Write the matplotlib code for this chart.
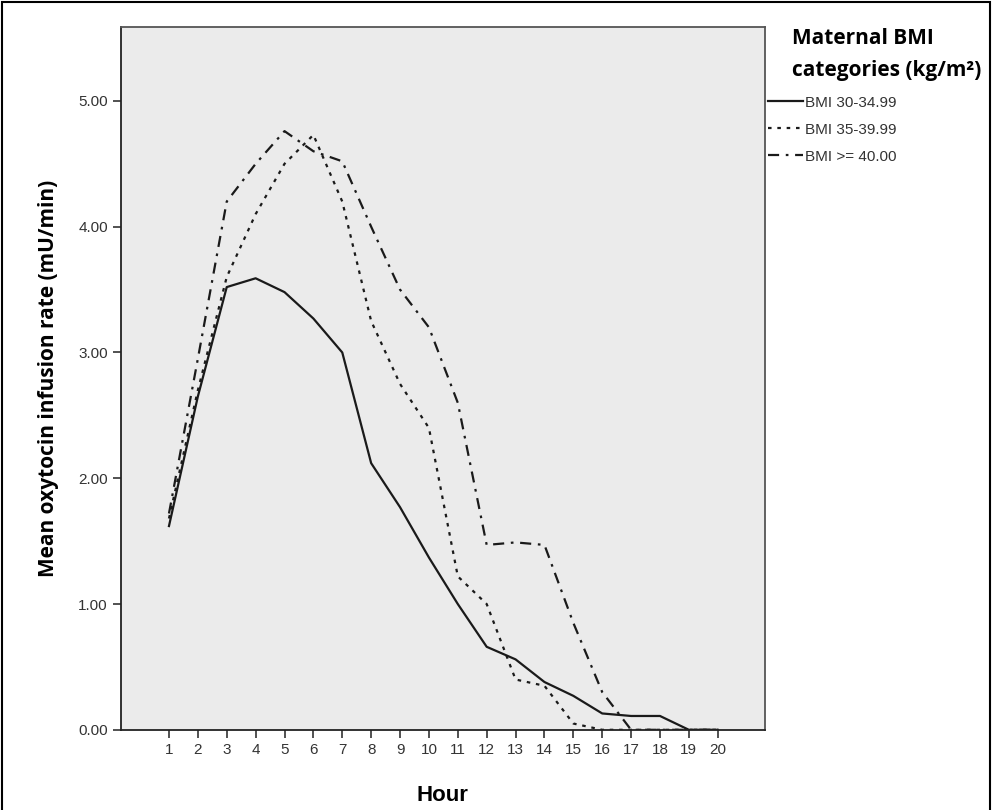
import numpy as np
import matplotlib.pyplot as plt
from matplotlib.patches import Rectangle

hours = list(range(1, 21))
bmi_30 = [1.62, 2.65, 3.52, 3.59, 3.48, 3.27, 3.00, 2.12, 1.77, 1.37,
          1.00, 0.66, 0.56, 0.38, 0.27, 0.13, 0.11, 0.11, 0.00, 0.00]
bmi_35 = [1.68, 2.70, 3.60, 4.10, 4.50, 4.73, 4.20, 3.25, 2.75, 2.40,
          1.22, 1.00, 0.40, 0.35, 0.05, 0.00, 0.00, 0.00, 0.00, 0.00]
bmi_40 = [1.72, 2.95, 4.20, 4.50, 4.76, 4.60, 4.52, 4.00, 3.50, 3.20,
          2.60, 1.47, 1.49, 1.47, 0.85, 0.30, 0.00, 0.00, 0.00, 0.00]
labels = ["BMI 30-34.99", "BMI 35-39.99", "BMI >= 40.00"]
yticks = [0, 1, 2, 3, 4, 5]

fig = plt.figure(figsize=(9.92, 8.1), dpi=100)
ax = fig.add_axes([0.122, 0.099, 0.649, 0.868])
ax.set_facecolor('#ebebeb')

c = '#1a1a1a'
l1, = ax.plot(hours, bmi_30, color=c, lw=1.6, ls='-')
l2, = ax.plot(hours, bmi_35, color=c, lw=1.6, ls=(0, (1.6, 2.6)))
l3, = ax.plot(hours, bmi_40, color=c, lw=1.6, ls=(0, (5, 3, 1.2, 3)))

ax.set_xlim(-0.66, 21.63)
ax.set_ylim(0, 5.59)
ax.set_xticks(hours)
ax.set_yticks(yticks)
ax.set_yticklabels(['%.2f' % v for v in yticks])
ax.tick_params(axis='both', direction='out', length=6, width=1.2, color='#333333',
               labelsize=11, labelcolor='#333333')
for lab in ax.get_xticklabels() + ax.get_yticklabels():
    lab.set_family('Liberation Sans')
for s in ax.spines.values():
    s.set_color('#555555')
    s.set_linewidth(1.3)
ax.spines['left'].set_color('#222222')
ax.spines['bottom'].set_color('#222222')

ax.set_ylabel('Mean oxytocin infusion rate (mU/min)', fontsize=15, fontweight='bold',
              family='Open Sans', labelpad=14)
ax.set_xlabel('Hour', fontsize=16, fontweight='bold', family='Liberation Sans', labelpad=20)

fig.text(0.798, 0.933, 'Maternal BMI\ncategories (kg/m²)', fontsize=15, fontweight='bold',
         family='Open Sans', va='center', ha='left', linespacing=1.7)

leg = fig.legend([l1, l2, l3], labels, loc='upper left', bbox_to_anchor=(0.774, 0.882),
                 frameon=False, handlelength=2.3, handletextpad=0.15, labelspacing=0.85,
                 prop={'family': 'Liberation Sans', 'size': 11}, borderaxespad=0, borderpad=0)
for t in leg.get_texts():
    t.set_color('#333333')

fig.patches.append(Rectangle((0.002, -0.01), 0.996, 1.007, transform=fig.transFigure,
                             fill=False, edgecolor='black', lw=1.5))

fig.savefig('out.png', dpi=100)
